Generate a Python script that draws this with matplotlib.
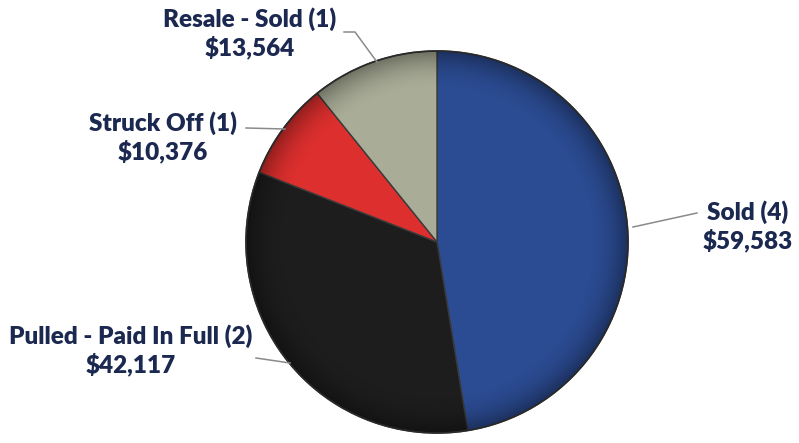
import numpy as np
import matplotlib.pyplot as plt

categories = ["Sold (4)", "Pulled - Paid In Full (2)", "Struck Off (1)", "Resale - Sold (1)"]
amounts = [59583, 42117, 10376, 13564]
colors = ["#2b4b92", "#1d1d1d", "#dc2f2e", "#a9ac97"]

W, H = 799, 443
fig = plt.figure(figsize=(W / 100, H / 100), dpi=100)
ax = fig.add_axes([0, 0, 1, 1])

cx, cy, r = 437, H - 242, 191
wedges, _ = ax.pie(amounts, colors=colors, startangle=90, counterclock=False,
                   center=(cx, cy), radius=r, frame=True,
                   wedgeprops=dict(edgecolor="#3a3a3a", linewidth=1.0))
ax.set_xlim(0, W)
ax.set_ylim(0, H)
ax.set_aspect("equal")
ax.axis("off")

# soft rim shading to give the disc some depth
n = 400
xs = np.linspace(cx - r, cx + r, n)
ys = np.linspace(cy - r, cy + r, n)
X, Y = np.meshgrid(xs, ys)
d = np.hypot(X - cx, Y - cy) / r
shade = np.zeros((n, n, 4))
shade[..., 3] = np.clip((d - 0.8) / 0.2, 0, 1) ** 2 * 0.35
img = ax.imshow(shade, extent=(cx - r, cx + r, cy - r, cy + r), origin="lower",
                zorder=3, interpolation="bilinear")
clip = plt.Circle((cx, cy), r, transform=ax.transData)
img.set_clip_path(clip)
ax.add_patch(plt.Circle((cx, cy), r, fill=False, edgecolor="#2a2a2a", lw=1.2, zorder=4))
ax.set_xlim(0, W)
ax.set_ylim(0, H)

txt = dict(fontsize=17.5, fontweight="heavy", color="#1b2850", family=["Lato", "DejaVu Sans"],
           ha="center", va="center", linespacing=1.25, zorder=5)
line = dict(color="#8a8a8a", lw=1.1, zorder=5)

def label(i, x, y, pts):
    ax.text(x, H - y, f"{categories[i]}\n${amounts[i]:,}", **txt)
    px, py = zip(*pts)
    ax.plot(px, [H - v for v in py], **line)

label(3, 250, 33, [(344, 32), (355, 32), (377, 62)])
label(2, 163, 137, [(246, 128), (285, 129)])
label(0, 748, 226, [(633, 227), (697, 213)])
label(1, 131, 350, [(256, 358), (290, 363)])

fig.savefig("out.png", dpi=100, facecolor="white")
